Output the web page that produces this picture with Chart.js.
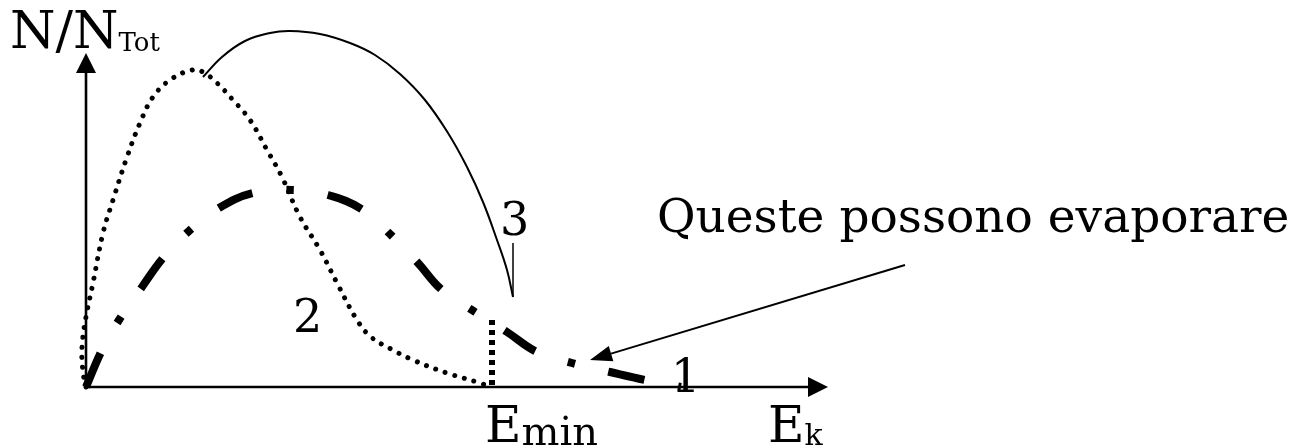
<!DOCTYPE html>
<html>
<head>
<meta charset="utf-8">
<script src="https://cdn.jsdelivr.net/npm/chart.js@4/dist/chart.umd.min.js"></script>
<style>
  html, body { margin: 0; padding: 0; background: #fff; }
  #wrap { width: 1307px; height: 448px; }
</style>
</head>
<body>
<div id="wrap"><canvas id="chart" width="1307" height="448"></canvas></div>
<script>
// units: 1 unit = 10 px, origin where the two axes meet
// curve 1 (thick dash-dot)
const curve1X = [0, 1.6, 3.3, 5.6, 7.7, 10.3, 13.3, 16.7, 20.6, 24.2, 27.7, 30.6, 33.2, 35.6, 38.9, 42.1, 45.1, 48.6, 52.4, 55.9, 59.5];
const curve1Y = [0, 3.7, 6.7, 10.0, 12.9, 15.6, 17.9, 19.4, 19.7, 19.2, 17.7, 15.1, 12.4, 9.7, 7.5, 5.5, 3.5, 2.4, 1.5, 0.7, 0];
// curve 2 (dotted)
const curve2X = [0, -0.3, -0.4, 0, 0.7, 1.7, 2.7, 4.1, 5.4, 6.7, 8.4, 10.6, 11.7, 13.1, 14.7, 16.4, 18.1, 19.6, 21.4, 23.4, 25.1, 27.1, 28.5, 30.5, 32.7, 36.1, 39.4, 40.4];
const curve2Y = [0, 1.5, 4.0, 7.0, 10.4, 15.4, 18.7, 23.0, 26.4, 29.0, 30.7, 31.7, 31.5, 30.4, 28.7, 26.7, 23.7, 21.0, 17.0, 13.7, 10.4, 6.7, 5.0, 3.8, 2.7, 1.4, 0.4, 0];
// curve 3 (thin solid)
const curve3X = [11.7, 13.6, 15.9, 18.4, 20.4, 23.4, 26.4, 28.9, 31.4, 33.9, 36.2, 38.1, 39.7, 41.1, 42.1, 42.7];
const curve3Y = [31.0, 33.0, 34.6, 35.4, 35.6, 35.3, 34.4, 33.2, 31.3, 28.7, 25.4, 22.0, 18.5, 14.7, 11.7, 9.0];

// axis ends, E_min marker, pointer arrow
const axisEndX = 74.2;
const axisEndY = 33.4;
const eMin = 40.6;
const eMinTop = 6.7;
const tick3 = { x: 42.7, y0: 9.0, y1: 14.4 };
const pointer = { fromX: 81.9, fromY: 12.2, toX: 50.4, toY: 2.7 };

// text labels: [main, subscript, x, y, size, subscript size]
const labels = [
  ['N/N', 'Tot', -7.6, 33.9, 52, 26],
  ['3', '', 41.4, 15.2, 46, 0],
  ['2', '', 20.7, 5.5, 46, 0],
  ['1', '', 58.5, -0.5, 46, 0],
  ['Queste possono evaporare', '', 57.1, 15.5, 47, 0],
  ['E', 'min', 39.9, -5.5, 50, 40],
  ['E', 'k', 68.2, -5.5, 50, 30]
];

function toPoints(xs, ys) {
  return xs.map((x, i) => ({ x: x, y: ys[i] }));
}

function arrow(ctx, x0, y0, x1, y1, len, half, width) {
  const a = Math.atan2(y1 - y0, x1 - x0);
  const bx = x1 - len * Math.cos(a), by = y1 - len * Math.sin(a);
  ctx.lineWidth = width;
  ctx.beginPath(); ctx.moveTo(x0, y0); ctx.lineTo(bx, by); ctx.stroke();
  ctx.beginPath();
  ctx.moveTo(x1, y1);
  ctx.lineTo(bx + half * Math.sin(a), by - half * Math.cos(a));
  ctx.lineTo(bx - half * Math.sin(a), by + half * Math.cos(a));
  ctx.closePath(); ctx.fill();
}

const sketch = {
  id: 'sketch',
  afterDatasetsDraw(chart) {
    const ctx = chart.ctx, sx = chart.scales.x, sy = chart.scales.y;
    const px = v => sx.getPixelForValue(v), py = v => sy.getPixelForValue(v);
    ctx.save();
    ctx.strokeStyle = '#000';
    ctx.fillStyle = '#000';
    // axes
    arrow(ctx, px(0), py(0), px(axisEndX), py(0), 20, 10, 2.6);
    arrow(ctx, px(0), py(0), px(0), py(axisEndY), 20, 10, 2.6);
    // E_min dotted marker
    ctx.setLineDash([5, 5]);
    ctx.lineWidth = 6;
    ctx.beginPath(); ctx.moveTo(px(eMin), py(eMinTop)); ctx.lineTo(px(eMin), py(0)); ctx.stroke();
    ctx.setLineDash([]);
    // small leader at curve 3
    ctx.lineWidth = 1.5;
    ctx.beginPath(); ctx.moveTo(px(tick3.x), py(tick3.y1)); ctx.lineTo(px(tick3.x), py(tick3.y0)); ctx.stroke();
    // pointer arrow
    arrow(ctx, px(pointer.fromX), py(pointer.fromY), px(pointer.toX), py(pointer.toY), 22, 8, 2);
    // text
    ctx.textBaseline = 'alphabetic';
    ctx.textAlign = 'left';
    labels.forEach(([main, sub, x, y, size, subSize]) => {
      ctx.font = size + 'px "DejaVu Serif"';
      ctx.fillText(main, px(x), py(y));
      if (sub) {
        const w = ctx.measureText(main).width;
        ctx.font = subSize + 'px "DejaVu Serif"';
        ctx.fillText(sub, px(x) + w, py(y) + 3);
      }
    });
    ctx.restore();
  }
};

new Chart(document.getElementById('chart'), {
  type: 'line',
  data: {
    datasets: [{
      label: '1',
      data: toPoints(curve1X, curve1Y),
      borderColor: '#000',
      borderWidth: 8,
      borderDash: [37, 34.5, 7, 34.5],
      borderCapStyle: 'butt',
      pointRadius: 0,
      tension: 0.4,
      clip: false
    }, {
      label: '2',
      data: toPoints(curve2X, curve2Y),
      borderColor: '#000',
      borderWidth: 5,
      borderDash: [0.01, 10],
      borderCapStyle: 'round',
      pointRadius: 0,
      tension: 0.4,
      clip: false
    }, {
      label: '3',
      data: toPoints(curve3X, curve3Y),
      borderColor: '#000',
      borderWidth: 2,
      pointRadius: 0,
      tension: 0.4,
      clip: false
    }]
  },
  options: {
    responsive: false,
    animation: false,
    layout: { padding: 0 },
    plugins: { legend: { display: false }, tooltip: { enabled: false } },
    scales: {
      x: { type: 'linear', min: -8.6, max: 122.1, display: false },
      y: { type: 'linear', min: -6.1, max: 38.7, display: false }
    }
  },
  plugins: [sketch]
});
</script>
</body>
</html>
